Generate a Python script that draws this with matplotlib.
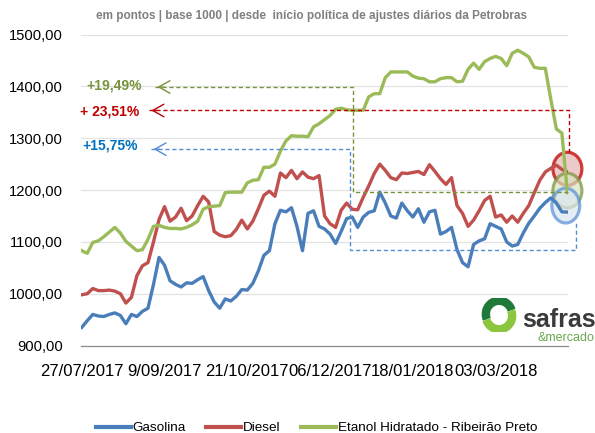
import numpy as np
import matplotlib
matplotlib.use("Agg")
import matplotlib.pyplot as plt
from matplotlib.patches import Ellipse, Wedge
from matplotlib.ticker import FuncFormatter

plt.rcParams['font.family'] = ['Liberation Sans', 'DejaVu Sans']

# indices sobre dias de pregao (um ponto a cada 2 dias)
dias = np.arange(0, 177, 2)
tick_pos = [0, 30, 60, 90, 120, 150]
tick_lbl = ['27/07/2017', '9/09/2017', '21/10/2017', '06/12/2017', '18/01/2018', '03/03/2018']

gasolina = [935, 948, 960, 957, 956, 960, 963, 958, 942, 960,
            956, 966, 972, 1018, 1070, 1055, 1025, 1018, 1013, 1021,
            1020, 1027, 1033, 1006, 984, 972, 990, 986, 995, 1008,
            1007, 1020, 1044, 1074, 1083, 1135, 1161, 1158, 1166, 1130,
            1083, 1155, 1160, 1130, 1125, 1115, 1097, 1120, 1145, 1148,
            1128, 1148, 1157, 1160, 1196, 1175, 1150, 1146, 1175, 1160,
            1148, 1164, 1138, 1158, 1161, 1115, 1120, 1128, 1085, 1060,
            1052, 1095, 1102, 1106, 1135, 1130, 1125, 1100, 1092, 1095,
            1117, 1136, 1150, 1165, 1176, 1185, 1175, 1158, 1157.5]

diesel = [998, 1000, 1010, 1006, 1006, 1007, 1005, 1000, 982, 993,
          1035, 1054, 1060, 1100, 1143, 1168, 1140, 1148, 1165, 1141,
          1150, 1170, 1188, 1177, 1120, 1113, 1110, 1112, 1124, 1142,
          1125, 1140, 1164, 1190, 1198, 1188, 1233, 1224, 1238, 1222,
          1235, 1225, 1222, 1228, 1150, 1135, 1128, 1161, 1175, 1163,
          1162, 1186, 1208, 1232, 1250, 1238, 1224, 1220, 1233, 1232,
          1234, 1236, 1230, 1249, 1236, 1222, 1211, 1224, 1170, 1155,
          1130, 1142, 1160, 1180, 1188, 1148, 1152, 1138, 1150, 1138,
          1155, 1170, 1195, 1219, 1235, 1242, 1248, 1240, 1235.1]

etanol = [1083, 1078, 1099, 1102, 1110, 1119, 1128, 1117, 1101, 1092,
          1083, 1085, 1105, 1130, 1132, 1128, 1126, 1126, 1125, 1128,
          1133, 1140, 1163, 1168, 1169, 1170, 1195, 1196, 1196, 1196,
          1214, 1219, 1220, 1244, 1244, 1250, 1275, 1295, 1305, 1304,
          1304, 1303, 1322, 1328, 1336, 1344, 1356, 1358, 1355, 1354,
          1354, 1354, 1380, 1386, 1386, 1417, 1428, 1428, 1428, 1428,
          1420, 1416, 1415, 1409, 1409, 1415, 1417, 1417, 1409, 1410,
          1433, 1445, 1433, 1448, 1454, 1458, 1454, 1440, 1464, 1470,
          1464, 1457, 1437, 1435, 1435, 1375, 1318, 1310, 1195]

c_gas, c_die, c_eta = '#4a7ebb', '#c0504d', '#9bbb59'

fig = plt.figure(figsize=(5.95, 4.33), dpi=100)
ax = fig.add_axes([0.136, 0.202, 0.819, 0.718])

ax.plot(dias, gasolina, color=c_gas, lw=2.4, label='Gasolina', solid_joinstyle='round')
ax.plot(dias, diesel, color=c_die, lw=2.4, label='Diesel', solid_joinstyle='round')
ax.plot(dias, etanol, color=c_eta, lw=2.4, label='Etanol Hidratado - Ribeirão Preto', solid_joinstyle='round')

ax.set_xlim(-0.3, 176.3)
ax.set_ylim(900, 1500)
ax.set_yticks(np.arange(900, 1501, 100))
ax.yaxis.set_major_formatter(FuncFormatter(lambda v, p: f'{v:.2f}'.replace('.', ',')))
ax.set_xticks(tick_pos)
ax.set_xticklabels(tick_lbl)
ax.tick_params(axis='y', length=0, pad=13, labelsize=10.6)
ax.tick_params(axis='x', length=0, pad=13, labelsize=12)
ax.grid(axis='y', color='#e3e3e3', lw=0.9)
ax.set_axisbelow(True)
for s in ['top', 'right', 'left']:
    ax.spines[s].set_visible(False)
ax.spines['bottom'].set_color('#8c8c8c')
ax.spines['bottom'].set_linewidth(0.9)

# anotacoes de variacao
dash = (0, (3, 2))
ax.plot([26.4, 98.3, 98.3, 176.1], [1399, 1399, 1196, 1196], color='#77933c', lw=1, ls=dash, clip_on=False)
ax.plot([24.2, 176.5, 176.5], [1353.6, 1353.6, 1274], color='#c00000', lw=1, ls=dash, clip_on=False)
ax.plot([25, 97.3, 97.3, 179, 179], [1279, 1279, 1084.5, 1084.5, 1139], color='#558ed5', lw=1, ls=dash, clip_on=False)
for y, x0, col in [(1399, 26.4, '#77933c'), (1353.6, 24.2, '#c00000'), (1279, 25, '#558ed5')]:
    ax.annotate('', xy=(x0, y), xytext=(x0 + 4, y),
                arrowprops=dict(arrowstyle='->,head_length=0.8,head_width=0.45', color=col, lw=1))
ax.text(1.8, 1402, '+19,49%', color='#77933c', fontsize=10, fontweight='bold', va='center')
ax.text(-0.7, 1351, '+ 23,51%', color='#c00000', fontsize=10, fontweight='bold', va='center')
ax.text(0.4, 1287, '+15,75%', color='#0070c0', fontsize=10, fontweight='bold', va='center')

ax.add_patch(Ellipse((176, 1241), 10.5, 64, facecolor='#e6b9b8', edgecolor='#c00000', lw=2.3, alpha=0.75, clip_on=False))
ax.add_patch(Ellipse((176, 1199), 10.5, 67, facecolor='#d7e4bd', edgecolor='#77933c', lw=2.3, alpha=0.7, clip_on=False))
ax.add_patch(Ellipse((175.4, 1170), 10.1, 67, facecolor='#dce6f2', edgecolor='#558ed5', lw=2.3, alpha=0.7, clip_on=False))

ax.legend(loc='center', bbox_to_anchor=(316.5 / 595, 1 - 428 / 433), bbox_transform=fig.transFigure,
          ncol=3, frameon=False, fontsize=9.7, handlelength=2.6, handletextpad=0.15,
          columnspacing=1.5, borderpad=0)
for l in ax.get_legend().get_lines():
    l.set_linewidth(3)

fig.text(312 / 595, 1 - 16 / 433,
         'em pontos | base 1000 | desde  início política de ajustes diários da Petrobras',
         ha='center', va='center', fontsize=8.5, fontweight='bold', color='#808080')

# logo
lg = fig.add_axes([479 / 595, 1 - 332 / 433, 40 / 595, 34 / 433])
lg.set_xlim(-1.2, 1.2)
lg.set_ylim(-1.0, 1.0)
lg.axis('off')
lg.add_patch(Wedge((0, 0.05), 1.0, 20, 200, width=0.42, color='#1f7a3a'))
lg.add_patch(Wedge((0, -0.05), 1.0, 200, 380, width=0.42, color='#8cc63f'))
fig.text(522 / 595, 1 - 327 / 433, 'safras', fontsize=18, fontweight='bold', color='#3a3a3a', va='baseline')
fig.text(537 / 595, 1 - 341 / 433, '&mercado', fontsize=9, color='#6aa84f', va='baseline')

fig.savefig('out.png', dpi=100)
